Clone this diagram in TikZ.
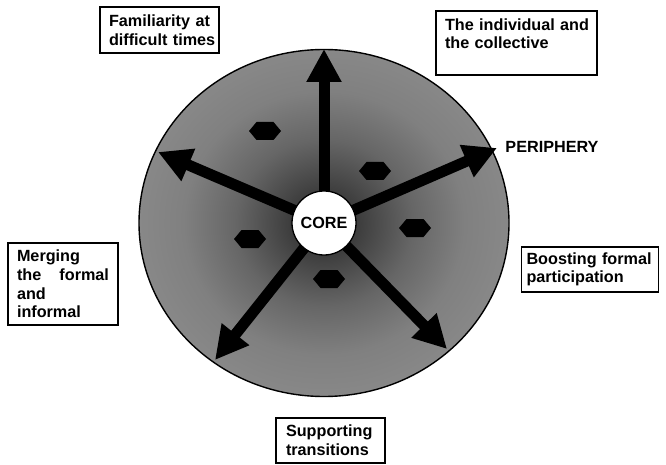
\documentclass[tikz,border=0pt]{standalone}
\usepackage{fontspec}
\setmainfont{Liberation Sans}
\usetikzlibrary{arrows.meta}
\definecolor{shA}{HTML}{2C2C2C}
\definecolor{shB}{HTML}{3A3A3A}
\definecolor{shC}{HTML}{666666}
\definecolor{shD}{HTML}{808080}
\definecolor{shE}{HTML}{888888}
\pgfdeclareradialshading{periph}{\pgfpoint{0bp}{0bp}}{color(0bp)=(shA); color(4bp)=(shB); color(12bp)=(shC); color(19bp)=(shD); color(25bp)=(shE); color(50bp)=(shE)}
\newcommand{\jline}[2]{\leavevmode\hbox to \linewidth{#1\hfill #2}}
\tikzset{
  lbl/.style={font=\bfseries\fontsize{16.2}{18.6}\selectfont},
  box/.style={lbl, draw=black, line width=1.3pt, fill=white, align=left, inner ysep=0pt},
  arr/.style={line width=11pt, -{Triangle[length=33pt,width=33pt]}},
  hexa/.style={fill=black}
}
\begin{document}
\begin{tikzpicture}[x=1pt,y=-1pt]
\useasboundingbox (0,0) rectangle (666,465);
\coordinate (ctr) at (324,223);
\shade[shading=periph, draw=black, line width=1.4pt] (ctr) ellipse [x radius=185, y radius=173.5];
% hexagons
\foreach \p in {(265,131),(375,171),(415,228),(250,239),(329,279)}{
  \fill[hexa, shift={\p}] (-16,0) -- (-8.5,-9) -- (8.5,-9) -- (16,0) -- (8.5,9) -- (-8.5,9) -- cycle;
}
% arrow tips
\coordinate (tA) at (324,49);
\coordinate (tB) at (158,152);
\coordinate (tC) at (497,148);
\coordinate (tD) at (215,360);
\coordinate (tE) at (447,349);
\foreach \t in {tA,tB,tC,tD,tE}{ \draw[arr] (ctr) -- (\t); }
\node[lbl, circle, draw=black, line width=1.3pt, fill=white, minimum size=64pt, inner sep=0pt] (core) at (ctr) {CORE};
\node[lbl] (peri) at (552,147) {PERIPHERY};
% boxes
\node[box, text width=101pt, inner xsep=9pt, minimum height=46pt] (b1) at (159.5,30) {\jline{Familiarity}{at}\\\mbox{difficult times}};
\node[box, text width=143pt, inner xsep=9pt, minimum height=64pt] (b2) at (516.5,43) {\mbox{The individual and}\\\mbox{the collective}\\\mbox{}};
\node[box, text width=92pt, inner xsep=9pt, minimum height=82pt] (b3) at (63,284) {Merging\\\jline{the}{formal}\\and\\informal};
\node[box, text width=127pt, inner xsep=5pt, minimum height=45pt] (b4) at (590,269.5) {\mbox{Boosting formal}\\\mbox{participation}};
\node[box, text width=89pt, inner xsep=10pt, minimum height=45pt] (b5) at (330.5,440.5) {\mbox{Supporting}\\\mbox{transitions}};
\end{tikzpicture}
\end{document}
